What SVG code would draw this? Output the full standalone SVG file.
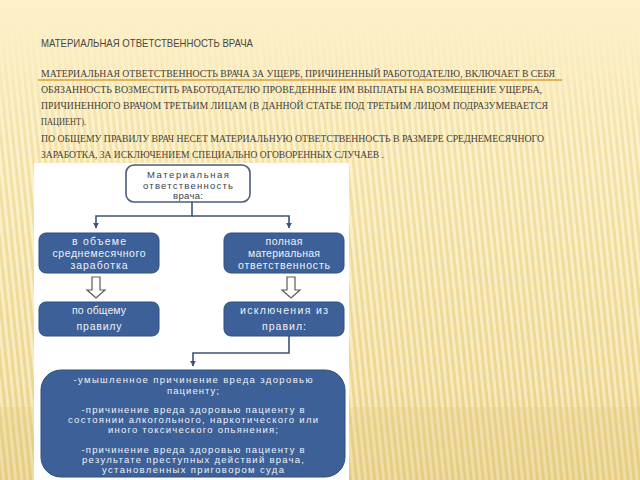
<svg xmlns="http://www.w3.org/2000/svg" width="640" height="480" viewBox="0 0 640 480">
<defs>
<linearGradient id="bg" x1="0" y1="0" x2="0" y2="1">
<stop offset="0" stop-color="#fdf1cb"/>
<stop offset="0.35" stop-color="#f9e9b3"/>
<stop offset="0.8" stop-color="#f1dc9a"/>
<stop offset="1" stop-color="#e9d28b"/>
</linearGradient>
<linearGradient id="fade" x1="0" y1="0" x2="0" y2="1">
<stop offset="0" stop-color="#000"/>
<stop offset="0.05" stop-color="#000"/>
<stop offset="0.3" stop-color="#fff"/>
<stop offset="1" stop-color="#fff"/>
</linearGradient>
<mask id="stripeMask"><rect width="640" height="480" fill="url(#fade)"/></mask>
<pattern id="stripes" width="6" height="40" patternUnits="userSpaceOnUse" patternTransform="rotate(-6)">
<rect x="0" y="0" width="3" height="40" fill="#fffbe6" opacity="0.45"/>
<rect x="3" y="0" width="3" height="40" fill="#d9bd6c" opacity="0.18"/>
</pattern>
<marker id="ah" viewBox="0 0 10 10" refX="9" refY="5" markerWidth="6" markerHeight="6" orient="auto" markerUnits="userSpaceOnUse">
<path d="M0,0 L10,5 L0,10 z" fill="#3e5472"/>
</marker>
<style>
.title{font-family:"Liberation Sans",Arial,sans-serif;font-size:11px;fill:#4a4640}
.body{font-family:"Liberation Serif","Times New Roman",serif;font-size:11px;fill:#46413a}
.blue{fill:#3c6097;stroke:#2f4f80;stroke-width:1}
.wt{font-family:"Liberation Sans",Arial,sans-serif;font-size:10.5px;fill:#edf1f7;text-anchor:middle}
.ws{font-family:"Liberation Sans",Arial,sans-serif;font-size:9.5px;fill:#edf1f7;text-anchor:middle}
.dt{font-family:"Liberation Sans",Arial,sans-serif;font-size:9.5px;fill:#3a3f48;text-anchor:middle}
.conn{fill:none;stroke:#3e5472;stroke-width:1.6}
.blk{fill:#fff;stroke:#555b63;stroke-width:1.2}
</style>
</defs>
<rect width="640" height="480" fill="url(#bg)"/>
<rect width="640" height="480" fill="url(#stripes)" mask="url(#stripeMask)"/>
<rect x="0" y="407" width="640" height="73" fill="#e2c67a" opacity="0.25"/>

<text class="title" x="41" y="47" textLength="212" lengthAdjust="spacingAndGlyphs">МАТЕРИАЛЬНАЯ ОТВЕТСТВЕННОСТЬ ВРАЧА</text>
<line x1="38" y1="80" x2="562" y2="80" stroke="#d9a03a" stroke-width="1.5"/>
<text class="body" x="41" y="77" textLength="514" lengthAdjust="spacingAndGlyphs">МАТЕРИАЛЬНАЯ ОТВЕТСТВЕННОСТЬ ВРАЧА ЗА УЩЕРБ, ПРИЧИНЕННЫЙ РАБОТОДАТЕЛЮ, ВКЛЮЧАЕТ В СЕБЯ</text>
<text class="body" x="41" y="93" textLength="501" lengthAdjust="spacingAndGlyphs">ОБЯЗАННОСТЬ ВОЗМЕСТИТЬ РАБОТОДАТЕЛЮ  ПРОВЕДЕННЫЕ ИМ  ВЫПЛАТЫ НА ВОЗМЕЩЕНИЕ УЩЕРБА,</text>
<text class="body" x="41" y="109" textLength="507" lengthAdjust="spacingAndGlyphs">ПРИЧИНЕННОГО ВРАЧОМ ТРЕТЬИМ ЛИЦАМ (В ДАННОЙ СТАТЬЕ ПОД ТРЕТЬИМ ЛИЦОМ ПОДРАЗУМЕВАЕТСЯ</text>
<text class="body" x="41" y="125" textLength="45" lengthAdjust="spacingAndGlyphs">ПАЦИЕНТ).</text>
<text class="body" x="41" y="142" textLength="503" lengthAdjust="spacingAndGlyphs">ПО ОБЩЕМУ ПРАВИЛУ ВРАЧ НЕСЕТ МАТЕРИАЛЬНУЮ ОТВЕТСТВЕННОСТЬ В РАЗМЕРЕ СРЕДНЕМЕСЯЧНОГО</text>
<text class="body" x="41" y="158" textLength="343" lengthAdjust="spacingAndGlyphs">ЗАРАБОТКА, ЗА ИСКЛЮЧЕНИЕМ СПЕЦИАЛЬНО ОГОВОРЕННЫХ СЛУЧАЕВ .</text>

<rect x="34" y="163" width="315" height="317" fill="#ffffff"/>

<g id="connectors">
<polyline class="conn" points="192,202 192,216 96,216 96,228" marker-end="url(#ah)"/>
<polyline class="conn" points="192,216 289,216 289,228" marker-end="url(#ah)"/>
<polyline class="conn" points="289,336 289,353 193,353 193,366" marker-end="url(#ah)"/>
<path class="blk" d="M92,277 H100 V290 H105 L96,298 L87,290 H92 Z"/>
<path class="blk" d="M287,277 H295 V290 H300 L291,298 L282,290 H287 Z"/>
</g>

<g id="n-root">
<rect x="126" y="165" width="124" height="37" rx="8" fill="#fff" stroke="#4a5d77" stroke-width="1.6"/>
<text class="dt" x="188" y="178" textLength="82" lengthAdjust="spacing">Материальная</text>
<text class="dt" x="188" y="188.5" textLength="90" lengthAdjust="spacing">ответственность</text>
<text class="dt" x="188" y="199" textLength="30" lengthAdjust="spacing">врача:</text>
</g>

<g id="n-avg">
<rect class="blue" x="39" y="233" width="120" height="40" rx="7"/>
<text class="wt" x="99" y="245" textLength="54" lengthAdjust="spacing">в объеме</text>
<text class="wt" x="99" y="257" textLength="93" lengthAdjust="spacing">среднемесячного</text>
<text class="wt" x="99" y="268.5" textLength="57" lengthAdjust="spacing">заработка</text>
</g>

<g id="n-full">
<rect class="blue" x="224" y="233" width="120" height="40" rx="7"/>
<text class="wt" x="284" y="245" textLength="37" lengthAdjust="spacing">полная</text>
<text class="wt" x="284" y="257" textLength="72" lengthAdjust="spacing">материальная</text>
<text class="wt" x="284" y="268.5" textLength="92" lengthAdjust="spacing">ответственность</text>
</g>

<g id="n-rule">
<rect class="blue" x="39" y="302" width="120" height="34" rx="7"/>
<text class="wt" x="99" y="314" textLength="54" lengthAdjust="spacing">по общему</text>
<text class="wt" x="99" y="330" textLength="45" lengthAdjust="spacing">правилу</text>
</g>

<g id="n-except">
<rect class="blue" x="224" y="302" width="120" height="34" rx="7"/>
<text class="wt" x="284" y="314" textLength="88" lengthAdjust="spacing">исключения из</text>
<text class="wt" x="284" y="330" textLength="44" lengthAdjust="spacing">правил:</text>
</g>

<g id="n-list">
<rect class="blue" x="41" y="370" width="304" height="107" rx="20"/>
<text class="ws" x="193" y="382.5" textLength="239" lengthAdjust="spacing">-умышленное причинение вреда здоровью</text>
<text class="ws" x="193" y="393.5" textLength="52" lengthAdjust="spacing">пациенту;</text>
<text class="ws" x="193" y="412.5" textLength="223" lengthAdjust="spacing">-причинение вреда здоровью пациенту в</text>
<text class="ws" x="193" y="422.5" textLength="250" lengthAdjust="spacing">состоянии алкогольного, наркотического или</text>
<text class="ws" x="193" y="432.5" textLength="170" lengthAdjust="spacing">иного токсического опьянения;</text>
<text class="ws" x="193" y="452.5" textLength="223" lengthAdjust="spacing">-причинение вреда здоровью пациенту в</text>
<text class="ws" x="193" y="462.5" textLength="222" lengthAdjust="spacing">результате преступных действий врача,</text>
<text class="ws" x="193" y="472.5" textLength="182" lengthAdjust="spacing">установленных приговором суда</text>
</g>
</svg>
